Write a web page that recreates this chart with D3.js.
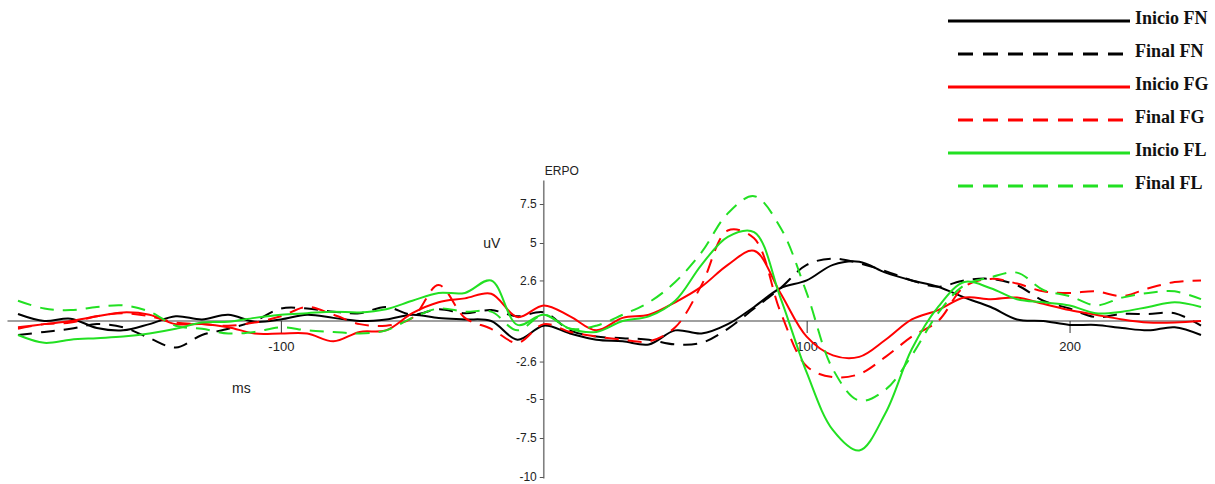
<!DOCTYPE html>
<html>
<head>
<meta charset="utf-8">
<script src="https://cdn.jsdelivr.net/npm/d3@7"></script>
<style>
  body { margin: 0; background: #fff; }
</style>
</head>
<body>
<div id="chart"></div>
<script>
// time points (ms) every 10 ms
const times = d3.range(-200, 251, 10);

// values in uV
const inicioFN = [0.45, 0.0, 0.15, -0.45, -0.6, -0.2, 0.3, 0.1, 0.4, -0.05,
  0.1, 0.4, 0.2, 0.0, 0.1, 0.4, 0.2, 0.1, 0.0, -1.2,
  -0.3, -0.8, -1.2, -1.3, -1.5, -0.6, -0.8, -0.2, 0.9, 2.1,
  2.6, 3.6, 3.8, 3.1, 2.6, 2.2, 1.5, 0.9, 0.1, 0.0,
  -0.25, -0.25, -0.45, -0.6, -0.4, -0.9];
const finalFN = [-0.9, -0.7, -0.5, -0.2, -0.4, -1.1, -1.7, -0.9, -0.5, 0.0,
  0.8, 0.8, 0.6, 0.5, 0.9, 0.4, 0.75, 0.5, 0.7, 0.3,
  0.55, -0.6, -1.0, -1.1, -1.2, -1.5, -1.4, -0.5, 0.8, 2.1,
  3.6, 4.0, 3.7, 3.2, 2.6, 2.2, 2.6, 2.7, 2.3, 1.3,
  0.8, 0.25, 0.45, 0.45, 0.5, -0.3];
const inicioFG = [-0.4, -0.2, 0.0, 0.3, 0.55, 0.4, -0.2, -0.2, -0.4, -0.8,
  -0.8, -0.8, -1.3, -0.7, -0.6, 0.5, 1.2, 1.45, 1.75, 0.25,
  1.0, 0.3, -0.6, 0.2, 0.4, 1.2, 2.2, 3.6, 4.5, 1.8,
  -1.0, -2.2, -2.3, -1.2, 0.1, 0.7, 1.5, 1.4, 1.5, 1.1,
  0.7, 0.4, 0.1, -0.1, -0.1, 0.0];
const finalFG = [-0.5, -0.2, -0.1, 0.3, 0.5, 0.3, -0.1, -0.2, -0.3, -0.1,
  0.3, 0.9, 0.4, -0.2, -0.3, 0.2, 2.3, 0.2, -0.5, -1.4,
  -0.2, -0.7, -1.0, -1.2, -1.3, -0.4, 2.3, 5.8, 5.3, 0.6,
  -2.9, -3.6, -3.4, -2.3, -1.0, 0.0, 2.2, 2.7, 2.4, 1.9,
  1.8, 1.9, 1.6, 2.1, 2.5, 2.6];
const inicioFL = [-0.9, -1.4, -1.2, -1.1, -1.0, -0.8, -0.5, -0.1, -0.05, 0.2,
  0.4, 0.5, 0.6, 0.55, 0.75, 1.3, 1.8, 1.8, 2.6, -0.25,
  0.4, -0.5, -0.7, 0.0, 0.3, 1.3, 3.6, 5.4, 5.7, 1.5,
  -3.3, -7.0, -8.3, -5.9, -1.8, 0.9, 2.5, 2.1, 1.4, 1.2,
  1.0, 0.5, 0.6, 0.9, 1.2, 0.9];
const finalFL = [1.3, 0.8, 0.7, 0.9, 1.0, 0.6, -0.3, -0.5, -0.8, -0.7,
  -0.4, -0.6, -0.7, -0.8, -0.6, 0.2, 0.8, 0.6, 0.6, -0.6,
  0.4, -0.5, -0.3, 0.4, 1.2, 2.5, 4.4, 6.9, 8.0, 6.0,
  1.8, -3.1, -5.1, -4.4, -2.2, 0.5, 2.3, 2.8, 3.1, 2.0,
  1.6, 1.0, 1.5, 1.8, 1.9, 1.4];

const seriesNames = ["Inicio FN", "Final FN", "Inicio FG", "Final FG", "Inicio FL", "Final FL"];
const seriesValues = [inicioFN, finalFN, inicioFG, finalFG, inicioFL, finalFL];
const seriesColors = ["#000000", "#000000", "#ff0000", "#ff0000", "#22e022", "#22e022"];
const seriesDashed = [false, true, false, true, false, true];

const yTicks = [7.5, 5, 2.6, -2.6, -5, -7.5, -10];
const xTicks = [-100, 100, 200];

var width = 1215, height = 484;

var svg = d3.select("#chart")
  .append("svg")
  .attr("width", width)
  .attr("height", height);

const x = d3.scaleLinear()
  .domain([-200, 250])
  .range([18, 1201]);

const y = d3.scaleLinear()
  .domain([-10, 7.5])
  .range([477, 204]);

// zero line
svg.append("line")
  .attr("x1", x(-204))
  .attr("x2", x(250))
  .attr("y1", y(0))
  .attr("y2", y(0))
  .style("stroke", "#808080")
  .style("stroke-width", 1.6);

// vertical axis
svg.append("line")
  .attr("x1", x(0))
  .attr("x2", x(0))
  .attr("y1", y(9))
  .attr("y2", y(-10.1))
  .style("stroke", "#808080")
  .style("stroke-width", 1.6);

var yAxis = svg.append("g")
  .attr("transform", "translate(" + x(0) + ",0)")
  .call(d3.axisLeft(y).tickValues(yTicks).tickSize(4).tickPadding(3).tickFormat(d => String(d)));
yAxis.select(".domain").remove();
yAxis.selectAll(".tick line").style("stroke", "#555");
yAxis.selectAll("text")
  .attr("font-family", "Liberation Sans, Arial")
  .attr("font-size", "12px")
  .style("fill", "#222");

var xAxis = svg.append("g")
  .attr("transform", "translate(0," + y(0) + ")")
  .call(d3.axisBottom(x).tickValues(xTicks).tickSize(12).tickPadding(9).tickFormat(d => String(d)));
xAxis.select(".domain").remove();
xAxis.selectAll(".tick line").style("stroke", "#333");
xAxis.selectAll("text")
  .attr("font-family", "Liberation Sans, Arial")
  .attr("font-size", "13px")
  .style("fill", "#222");

svg.append("text")
  .attr("x", x(0) + 1)
  .attr("y", y(9) - 6)
  .attr("font-family", "Liberation Sans, Arial")
  .attr("font-size", "12px")
  .style("fill", "#222")
  .text("ERPO");

svg.append("text")
  .attr("x", x(0) - 52)
  .attr("y", y(5) + 5)
  .attr("text-anchor", "middle")
  .attr("font-family", "Liberation Sans, Arial")
  .attr("font-size", "14px")
  .style("fill", "#222")
  .text("uV");

svg.append("text")
  .attr("x", x(-115))
  .attr("y", y(-4.6))
  .attr("text-anchor", "middle")
  .attr("font-family", "Liberation Sans, Arial")
  .attr("font-size", "14px")
  .style("fill", "#222")
  .text("ms");

// curves
var line = d3.line()
  .x((d, i) => x(times[i]))
  .y(d => y(d))
  .curve(d3.curveCatmullRom.alpha(0.5));

seriesValues.forEach(function(vals, k){
  svg.append("path")
    .attr("d", line(vals))
    .style("fill", "none")
    .style("stroke", seriesColors[k])
    .style("stroke-width", 2)
    .style("stroke-dasharray", seriesDashed[k] ? "14,9" : null);
});

// legend
const legY = d3.scalePoint().domain(seriesNames).range([21, 186]);

var leg = svg.selectAll(".leg")
  .data(seriesNames)
  .enter().append("g")
  .attr("class", "leg")
  .attr("transform", d => "translate(0," + legY(d) + ")");
leg.append("line")
  .attr("x1", (d, i) => seriesDashed[i] ? 958 : 948)
  .attr("x2", (d, i) => seriesDashed[i] ? 1125 : 1130)
  .style("stroke", (d, i) => seriesColors[i])
  .style("stroke-width", 2.8)
  .style("stroke-dasharray", (d, i) => seriesDashed[i] ? "15,10" : null);
leg.append("text")
  .attr("x", 1135)
  .attr("y", -1)
  .attr("dominant-baseline", "middle")
  .attr("font-family", "Liberation Serif, Times New Roman")
  .attr("font-weight", "bold")
  .attr("font-size", "18px")
  .style("fill", "#111")
  .text(d => d);
</script>
</body>
</html>
